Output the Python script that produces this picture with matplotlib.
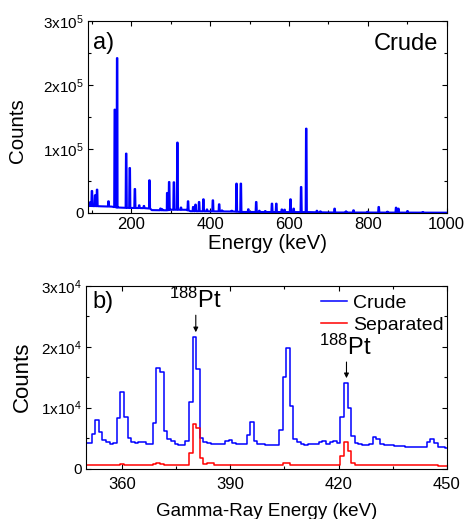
import matplotlib
matplotlib.use('Agg')
import matplotlib.pyplot as plt
from matplotlib.ticker import FuncFormatter, MultipleLocator
import numpy as np

plt.rcParams['font.family'] = ['Liberation Sans', 'DejaVu Sans']
plt.rcParams['mathtext.fontset'] = 'custom'
plt.rcParams['mathtext.rm'] = 'Liberation Sans'
plt.rcParams['mathtext.it'] = 'Liberation Sans:italic'

# (a) full crude spectrum: continuum level plus the gamma lines on top of it
bg_energy = [90, 150, 165, 190, 245, 252, 290, 300, 340, 350, 460, 480, 650, 700, 1000]
bg_counts = [11000, 10000, 8500, 8000, 7500, 4500, 4200, 5200, 5000, 2800, 2300, 1600, 1400, 800, 500]

line_energy = [96, 100, 108, 113, 142, 158, 164, 187, 196, 209, 220, 232, 246,
               274, 278, 291, 296, 308, 317, 326, 344, 357, 363, 372, 383, 392,
               407, 423, 430, 455, 467, 478, 497, 517, 525, 540, 557, 568, 582,
               589, 604, 612, 631, 644, 671, 680, 716, 745, 764, 800, 828, 850,
               872, 878, 901, 940]
line_counts = [17000, 34400, 27700, 36500, 18300, 161500, 242000, 92800, 70300,
               37500, 12000, 11000, 51100, 7000, 6000, 31300, 48400, 48000,
               110000, 8500, 18300, 9400, 13100, 17200, 21400, 5500, 19800,
               13600, 4000, 3500, 45900, 45900, 5800, 17200, 3500, 3000, 14600,
               14600, 5500, 5200, 21400, 6800, 40600, 131800, 3500, 2500, 6800,
               2500, 4200, 2000, 9400, 2000, 8300, 6800, 3000, 1500]

# (b) 350-450 keV region, 1 keV bins
bin_start = 350
crude_counts = [
    4200, 4200, 5600, 7900, 6000, 4700, 4300, 4100, 4200, 8300,
    12600, 8500, 5000, 4400, 4200, 4400, 4400, 4100, 4100, 7400,
    16600, 15900, 6200, 4800, 4500, 4100, 3900, 3900, 4600, 11000,
    21600, 16400, 5000, 4400, 4200, 4100, 4000, 4000, 4100, 4500,
    4700, 4200, 3950, 3950, 3950, 5500, 7600, 4600, 4000, 3950,
    3900, 3900, 3800, 3800, 6400, 15000, 19800, 10300, 4800, 4300,
    4000, 3900, 4000, 4100, 4000, 4300, 4600, 4100, 4300, 4600,
    4200, 8500, 14000, 9900, 5300, 4200, 4000, 3900, 3900, 4000,
    5100, 4900, 4000, 3900, 3800, 3800, 3700, 3700, 3700, 3600,
    3600, 3600, 3600, 3500, 3500, 4300, 4900, 4200, 3600, 3500,
    3400]
separated_counts = [
    600, 600, 600, 550, 550, 550, 550, 550, 550, 650,
    750, 650, 550, 550, 550, 550, 550, 550, 550, 700,
    900, 700, 550, 550, 500, 500, 500, 500, 600, 2600,
    7300, 6600, 1800, 800, 900, 850, 600, 550, 550, 550,
    550, 500, 500, 500, 500, 550, 550, 500, 500, 500,
    500, 500, 500, 500, 550, 850, 900, 600, 550, 550,
    550, 550, 550, 550, 550, 550, 550, 550, 550, 550,
    600, 2000, 4400, 2800, 900, 600, 550, 550, 500, 500,
    550, 550, 500, 500, 500, 500, 500, 500, 500, 500,
    500, 500, 500, 500, 500, 550, 550, 500, 450, 450,
    450]

pt_lines = [380.4, 422.2]
pt_arrow_tip = [22400, 14850]
pt_arrow_tail = [25200, 17500]


def sci_label(v, pos):
    if v == 0:
        return '0'
    exp = int(np.floor(np.log10(abs(v))))
    mant = v / 10 ** exp
    return r'$%d\mathrm{x}10^{%d}$' % (round(mant), exp)


def style_axes(ax):
    ax.tick_params(which='both', direction='in', top=True, right=True,
                   width=0.8)
    ax.tick_params(axis='x', labelsize=12)
    ax.tick_params(axis='y', labelsize=11)
    ax.tick_params(which='major', length=3.5, pad=3)
    ax.tick_params(which='minor', length=2.5)
    for s in ax.spines.values():
        s.set_linewidth(0.8)
    ax.yaxis.set_major_formatter(FuncFormatter(sci_label))


fig = plt.figure(figsize=(4.65, 5.19), dpi=100)

# ---- panel a ----
ax1 = fig.add_axes([88 / 465, 1 - 213 / 519, 358.5 / 465, 192 / 519])
pts = list(zip(bg_energy, bg_counts))
for e, c in zip(line_energy, line_counts):
    base = np.interp(e, bg_energy, bg_counts)
    pts += [(e - 1.5, base), (e - 0.6, c), (e + 0.6, c), (e + 1.5, base)]
pts.sort()
xa, ya = zip(*pts)
ax1.plot(xa, ya, color='#0000ff', lw=1.5)
ax1.set_xlim(90, 1000)
ax1.set_ylim(0, 3e5)
ax1.xaxis.set_major_locator(MultipleLocator(200))
ax1.xaxis.set_minor_locator(MultipleLocator(100))
ax1.yaxis.set_major_locator(MultipleLocator(1e5))
ax1.yaxis.set_minor_locator(MultipleLocator(0.5e5))
style_axes(ax1)
ax1.set_xlabel('Energy (keV)', fontsize=14.7, labelpad=1)
ax1.set_ylabel('Counts', fontsize=14.8)
ax1.yaxis.set_label_coords(-0.17, 0.43)
ax1.text(0.014, 0.945, 'a)', transform=ax1.transAxes, fontsize=17, va='top')
ax1.text(0.976, 0.935, 'Crude', transform=ax1.transAxes, fontsize=17,
         va='top', ha='right')

# ---- panel b ----
ax2 = fig.add_axes([86.2 / 465, 1 - 468.5 / 519, 360.5 / 465, 182.5 / 519])
energy_b = bin_start + np.arange(len(crude_counts))
ax2.step(energy_b, crude_counts, where='mid', color='#0000ff', lw=1.1,
         label='Crude')
ax2.step(energy_b, separated_counts, where='mid', color='#ff0000', lw=1.1,
         label='Separated')
ax2.set_xlim(350, 450)
ax2.set_ylim(0, 3e4)
ax2.xaxis.set_major_locator(MultipleLocator(30))
ax2.xaxis.set_minor_locator(MultipleLocator(15))
ax2.set_xticks([360, 390, 420, 450])
ax2.yaxis.set_major_locator(MultipleLocator(1e4))
ax2.yaxis.set_minor_locator(MultipleLocator(0.5e4))
style_axes(ax2)
ax2.tick_params(axis='x', which='major', pad=6)
ax2.set_xlabel('Gamma-Ray Energy (keV)', fontsize=13.5, labelpad=8)
ax2.set_ylabel('Counts', fontsize=16)
ax2.yaxis.set_label_coords(-0.148, 0.5)
ax2.text(0.016, 0.975, 'b)', transform=ax2.transAxes, fontsize=17, va='top')

for e, tip, tail in zip(pt_lines, pt_arrow_tip, pt_arrow_tail):
    ax2.annotate('', xy=(e, tip), xytext=(e, tail),
                 arrowprops=dict(arrowstyle='-|>', color='k', lw=0.8,
                                 mutation_scale=7, shrinkA=0, shrinkB=0))
    ax2.text(e - 0.2, tail + 400, r'$^{188}$Pt', fontsize=17, ha='center',
             va='bottom')

ax2.legend(loc='upper left', bbox_to_anchor=(0.652, 0.955), frameon=False,
           fontsize=14, handlelength=1.35, handletextpad=0.3,
           labelspacing=0.25, borderpad=0, borderaxespad=0)

fig.savefig('out.png', dpi=100)
